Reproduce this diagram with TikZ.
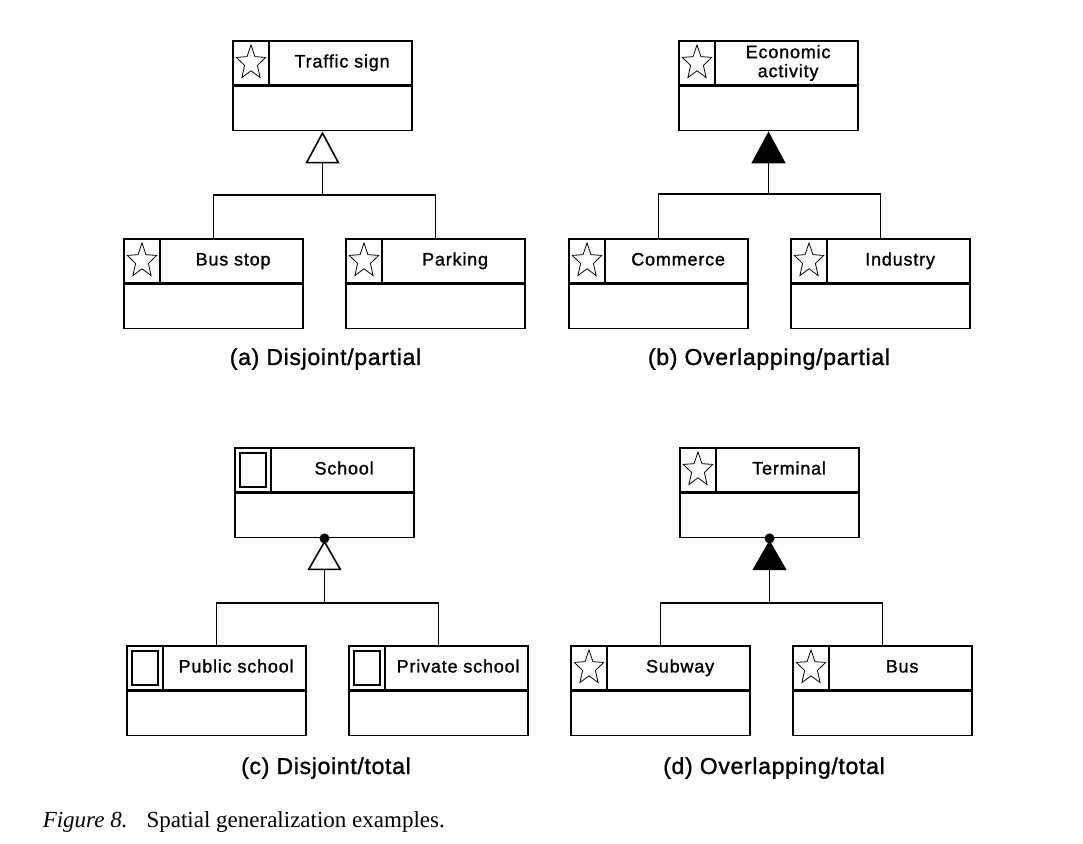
\documentclass[tikz,border=0pt]{standalone}
\usepackage{fontspec}
\setmainfont{Liberation Serif}
\newfontfamily\diagfont[LetterSpace=4.5, FakeBold=1.2]{Liberation Sans}
\newfontfamily\capfont[LetterSpace=3, FakeBold=1.2]{Liberation Sans}
\usetikzlibrary{positioning, arrows.meta, shapes.geometric}

\begin{document}
\begin{tikzpicture}[x=1pt, y=1pt, line width=1.6pt,
        head/.style={draw, minimum width=179pt, minimum height=44pt, inner sep=0pt},
        body/.style={draw, minimum width=179pt, minimum height=44pt, inner sep=0pt},
        cell/.style={draw, minimum width=36pt, minimum height=44pt, inner sep=0pt},
        spatial/.style={cell, path picture={\node[star, star points=5, star point ratio=2.3, draw, line width=0.8pt, anchor=center,
            minimum size=36pt, inner sep=0pt, xscale=0.86, transform shape] at (path picture bounding box.center) {};}},
        region/.style={cell, path picture={\draw ([xshift=-13pt, yshift=-17pt]path picture bounding box.center)
            rectangle ([xshift=13pt, yshift=17pt]path picture bounding box.center);}},
        clsname/.style={minimum width=143pt, inner sep=0pt, align=center, text height=13pt, text depth=4pt,
            font=\diagfont\fontsize{18}{19}\selectfont},
        joint/.style={circle, fill, inner sep=0pt, minimum size=10pt},
        gen/.style={-{Triangle[open, length=32pt, width=34pt]}},
        genfill/.style={-{Triangle[length=32pt, width=34pt]}},
        gentotal/.style={-{Triangle[open, length=30pt, width=34pt]}, shorten >=-4pt},
        genfilltotal/.style={-{Triangle[length=30pt, width=34pt]}, shorten >=-4pt},
        caption/.style={anchor=base, font=\capfont\fontsize{23}{27}\selectfont}]
        \useasboundingbox (0,0) rectangle (1083,843);

        \node[head] (ts) at (322.5,780) {};
        \node[spatial] (tsi) [right=0pt of ts.west] {};
        \node[clsname] (tsn) [right=0pt of tsi] {Traffic sign};
        \node[body] (tsb) [below=0pt of ts] {};

        \node[head] (bs) at (213.5,582) {};
        \node[spatial] (bsi) [right=0pt of bs.west] {};
        \node[clsname] (bsn) [right=0pt of bsi] {Bus stop};
        \node[body] (bsb) [below=0pt of bs] {};

        \node[head] (pk) at (435.5,582) {};
        \node[spatial] (pki) [right=0pt of pk.west] {};
        \node[clsname] (pkn) [right=0pt of pki] {Parking};
        \node[body] (pkb) [below=0pt of pk] {};

        \node[head] (ea) at (768.5,780) {};
        \node[spatial] (eai) [right=0pt of ea.west] {};
        \node[clsname, text height=, text depth=] (ean) [right=0pt of eai] {Economic\\activity};
        \node[body] (eab) [below=0pt of ea] {};

        \node[head] (cm) at (658.5,582) {};
        \node[spatial] (cmi) [right=0pt of cm.west] {};
        \node[clsname] (cmn) [right=0pt of cmi] {Commerce};
        \node[body] (cmb) [below=0pt of cm] {};

        \node[head] (in) at (880.5,582) {};
        \node[spatial] (ini) [right=0pt of in.west] {};
        \node[clsname] (inn) [right=0pt of ini] {Industry};
        \node[body] (inb) [below=0pt of in] {};

        \node[head] (sc) at (324.5,373) {};
        \node[region] (sci) [right=0pt of sc.west] {};
        \node[clsname] (scn) [right=0pt of sci] {School};
        \node[body] (scb) [below=0pt of sc] {};

        \node[head] (ps) at (216.5,175) {};
        \node[region] (psi) [right=0pt of ps.west] {};
        \node[clsname] (psn) [right=0pt of psi] {Public school};
        \node[body] (psb) [below=0pt of ps] {};

        \node[head] (pv) at (438.5,175) {};
        \node[region] (pvi) [right=0pt of pv.west] {};
        \node[clsname] (pvn) [right=0pt of pvi] {Private school};
        \node[body] (pvb) [below=0pt of pv] {};

        \node[head] (tm) at (769.5,373) {};
        \node[spatial] (tmi) [right=0pt of tm.west] {};
        \node[clsname] (tmn) [right=0pt of tmi] {Terminal};
        \node[body] (tmb) [below=0pt of tm] {};

        \node[head] (sw) at (660.5,175) {};
        \node[spatial] (swi) [right=0pt of sw.west] {};
        \node[clsname] (swn) [right=0pt of swi] {Subway};
        \node[body] (swb) [below=0pt of sw] {};

        \node[head] (bu) at (882.5,175) {};
        \node[spatial] (bui) [right=0pt of bu.west] {};
        \node[clsname] (bun) [right=0pt of bui] {Bus};
        \node[body] (bub) [below=0pt of bu] {};

        \node[joint] (scd) at (scb.south) {};
        \node[joint] (tmd) at (tmb.south) {};

        \coordinate (ja) at (322.5,648);
        \coordinate (jb) at (768.5,649);
        \coordinate (jc) at (324.5,240);
        \coordinate (jd) at (769.5,240);

        \draw[gen] (ja) -- (tsb);
        \draw (bs.north) |- (ja) -| (pk.north);
        \draw[genfill] (jb) -- (eab);
        \draw (cm.north) |- (jb) -| (in.north);
        \draw[gentotal] (jc) -- (scd);
        \draw (ps.north) |- (jc) -| (pv.north);
        \draw[genfilltotal] (jd) -- (tmd);
        \draw (sw.north) |- (jd) -| (bu.north);

        \node[caption] (capa) at (325.5,478) {(a) Disjoint/partial};
        \node[caption] (capb) at (769,478) {(b) Overlapping/partial};
        \node[caption] (capc) at (326,69) {(c) Disjoint/total};
        \node[caption] (capd) at (774,69) {(d) Overlapping/total};

        \node[anchor=base west, inner sep=0pt, font=\fontsize{23}{27}\selectfont] (fig) at (42,16)
            {\textit{Figure 8.}\hspace{19pt}Spatial generalization examples.};
    \end{tikzpicture}
\end{document}
